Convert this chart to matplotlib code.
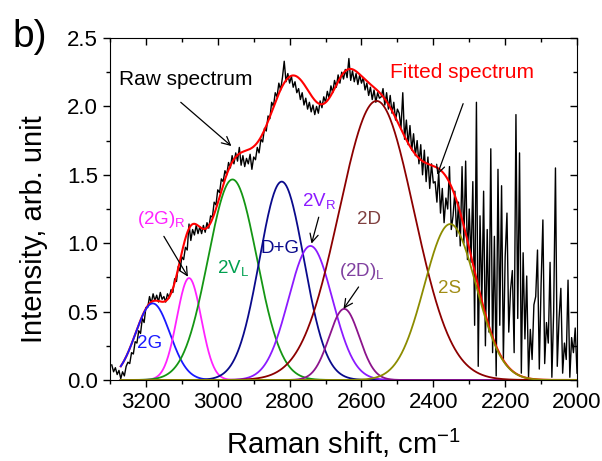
import numpy as np
import matplotlib.pyplot as plt

plt.rcParams['font.family'] = ['Liberation Sans', 'DejaVu Sans']
plt.rcParams['mathtext.default'] = 'regular'

# raw spectrum, every 5 cm-1 from 3295 down to 2000
raw_start = 3295
raw_step = -5
raw_y = [
    0.11, 0.06, 0.09, 0.04, 0.07, 0.01, 0.06, 0.03, 0.10, 0.13,
    0.12, 0.20, 0.19, 0.28, 0.27, 0.36, 0.34, 0.45, 0.42, 0.53,
    0.53, 0.61, 0.56, 0.63, 0.58, 0.62, 0.57, 0.64, 0.59, 0.61,
    0.57, 0.63, 0.60, 0.66, 0.64, 0.74, 0.72, 0.83, 0.80, 0.90,
    0.88, 0.97, 0.95, 1.14, 1.02, 1.10, 1.06, 1.13, 1.07, 1.12,
    1.07, 1.13, 1.08, 1.15, 1.11, 1.20, 1.19, 1.30, 1.28, 1.39,
    1.37, 1.47, 1.45, 1.53, 1.50, 1.59, 1.55, 1.64, 1.58, 1.66,
    1.60, 1.70, 1.57, 1.64, 1.56, 1.62, 1.58, 1.65, 1.54, 1.63,
    1.61, 1.70, 1.66, 1.76, 1.74, 1.84, 1.82, 1.93, 1.91, 2.03,
    2.00, 2.10, 2.07, 2.17, 2.12, 2.21, 2.33, 2.18, 2.24, 2.17,
    2.22, 2.14, 2.18, 2.10, 2.13, 2.05, 2.10, 2.01, 2.06, 1.98,
    2.03, 1.96, 2.01, 1.94, 2.00, 1.95, 2.04, 1.99, 2.07, 2.03,
    2.11, 2.06, 2.15, 2.10, 2.19, 2.14, 2.23, 2.17, 2.25, 2.20,
    2.27, 2.21, 2.35, 2.19, 2.26, 2.18, 2.24, 2.16, 2.23, 2.17,
    2.21, 2.12, 2.17, 2.08, 2.14, 2.05, 2.12, 2.03, 2.10, 2.06,
    2.07, 2.13, 2.01, 2.10, 1.98, 2.08, 1.95, 2.03, 1.90, 1.98,
    1.95, 1.84, 2.10, 1.76, 1.90, 1.72, 1.86, 1.68, 1.80, 1.64,
    1.75, 1.58, 1.72, 1.50, 1.68, 1.45, 1.63, 1.40, 1.58, 1.44,
    1.45, 1.30, 1.52, 1.22, 1.40, 1.15, 1.33, 1.25, 1.56, 1.10,
    1.20, 1.38, 1.05, 1.30, 0.98, 1.56, 1.00, 1.60, 0.88, 1.25,
    0.86, 1.45, 0.40, 2.03, 0.10, 1.20, 0.55, 1.38, 0.25, 1.10,
    0.35, 1.69, 0.20, 1.05, 0.03, 1.54, 0.40, 1.42, 0.15, 0.90,
    1.22, 0.35, 0.66, 0.80, 0.20, 1.94, 0.45, 1.66, 0.05, 0.93,
    0.30, 0.76, 0.02, 0.37, 0.15, 0.55, 0.61, 0.95, 0.08, 0.70,
    1.17, 0.12, 0.42, 0.27, 0.86, 0.02, 0.50, 1.55, 0.10, 0.45,
    0.67, 0.05, 0.27, 0.15, 0.73, 0.02, 0.31, 0.20, 0.38, 0.05,
]
raw_x = raw_start + raw_step * np.arange(len(raw_y))

# fitted gaussian components
peak_names = ['2G', '(2G)R', '2VL', 'D+G', '2VR', '(2D)L', '2D', '2S']
peak_centers = [3181, 3080, 2959, 2822, 2742, 2648, 2558, 2353]
peak_heights = [0.56, 0.745, 1.466, 1.45, 0.98, 0.52, 2.04, 1.14]
peak_sigmas = [48, 34, 68, 62, 61, 42, 104, 72]
peak_colors = ['#1a1aff', '#ff22ff', '#149614', '#0a0a8c', '#8c1aff',
               '#8c148c', '#8c0000', '#8c8c00']

fit_x = np.linspace(3270, 2000, 800)
components = []
for c, h, s in zip(peak_centers, peak_heights, peak_sigmas):
    components.append(h * np.exp(-0.5 * ((fit_x - c) / s) ** 2))
fit_y = np.sum(components, axis=0)

fig = plt.figure(figsize=(6.02, 4.61), dpi=100)
ax = fig.add_axes([0.1827, 0.1757, 0.7758, 0.7419])

ax.plot(raw_x, raw_y, color='black', lw=1.0)
ax.plot(fit_x, fit_y, color='red', lw=1.5)
for comp, col in zip(components, peak_colors):
    ax.plot(fit_x, comp, color=col, lw=1.3)

ax.set_xlim(3300, 2000)
ax.set_ylim(0, 2.5)
ax.set_xticks(np.arange(3200, 1999, -200))
ax.set_xticks(np.arange(3300, 1999, -100), minor=True)
ax.set_yticks(np.arange(0, 2.51, 0.5))
ax.set_yticks(np.arange(0, 2.51, 0.25), minor=True)
ax.yaxis.set_major_formatter(plt.FormatStrFormatter('%.1f'))
ax.tick_params(which='both', labelsize=16, width=1)
ax.tick_params(which='major', length=5)
ax.tick_params(which='minor', length=3)
ax.tick_params(which='both', top=True, right=True)
# mirror ticks point inwards, like the Origin original
for t in ax.xaxis.get_ticklines(minor=False)[1::2] + ax.xaxis.get_ticklines(minor=True)[1::2]:
    t.set_marker(3)
for t in ax.yaxis.get_ticklines(minor=False)[1::2] + ax.yaxis.get_ticklines(minor=True)[1::2]:
    t.set_marker(0)

ax.set_xlabel('Raman shift, cm$^{-1}$', fontsize=21, labelpad=10)
ax.set_ylabel('Intensity, arb. unit', fontsize=21)
ax.yaxis.set_label_coords(-0.133, 0.44)
fig.text(0.02, 0.898, 'b)', fontsize=28)

arrow = dict(arrowstyle='->,head_length=0.6,head_width=0.3', color='black', lw=0.9,
             shrinkA=0, shrinkB=0)
ax.text(3090, 2.20, 'Raw spectrum', fontsize=15, ha='center', va='center')
ax.annotate('', xy=(2962, 1.71), xytext=(3103, 2.03), arrowprops=arrow)
ax.text(2321, 2.25, 'Fitted spectrum', fontsize=15, color='red', ha='center', va='center')
ax.annotate('', xy=(2389, 1.50), xytext=(2317, 2.02), arrowprops=arrow)

ax.text(3157, 1.17, '(2G)$_R$', fontsize=13.5, color=peak_colors[1], ha='center', va='center')
ax.annotate('', xy=(3083, 0.755), xytext=(3150, 1.05), arrowprops=arrow)
ax.text(2957, 0.817, '2V$_L$', fontsize=13.5, color='#00a050', ha='center', va='center')
ax.text(2828, 0.964, 'D+G', fontsize=13.5, color=peak_colors[3], ha='center', va='center')
ax.text(2719, 1.31, '2V$_R$', fontsize=13.5, color=peak_colors[4], ha='center', va='center')
ax.annotate('', xy=(2739, 0.997), xytext=(2719, 1.19), arrowprops=arrow)
ax.text(2578, 1.173, '2D', fontsize=13.5, color='#804040', ha='center', va='center')
ax.text(2600, 0.795, '(2D)$_L$', fontsize=13.5, color='#8040a0', ha='center', va='center')
ax.annotate('', xy=(2650, 0.52), xytext=(2608, 0.68), arrowprops=arrow)
ax.text(2356, 0.671, '2S', fontsize=13.5, color='#a08c14', ha='center', va='center')
ax.text(3190, 0.268, '2G', fontsize=13.5, color=peak_colors[0], ha='center', va='center')

fig.savefig('out.png', dpi=100)
